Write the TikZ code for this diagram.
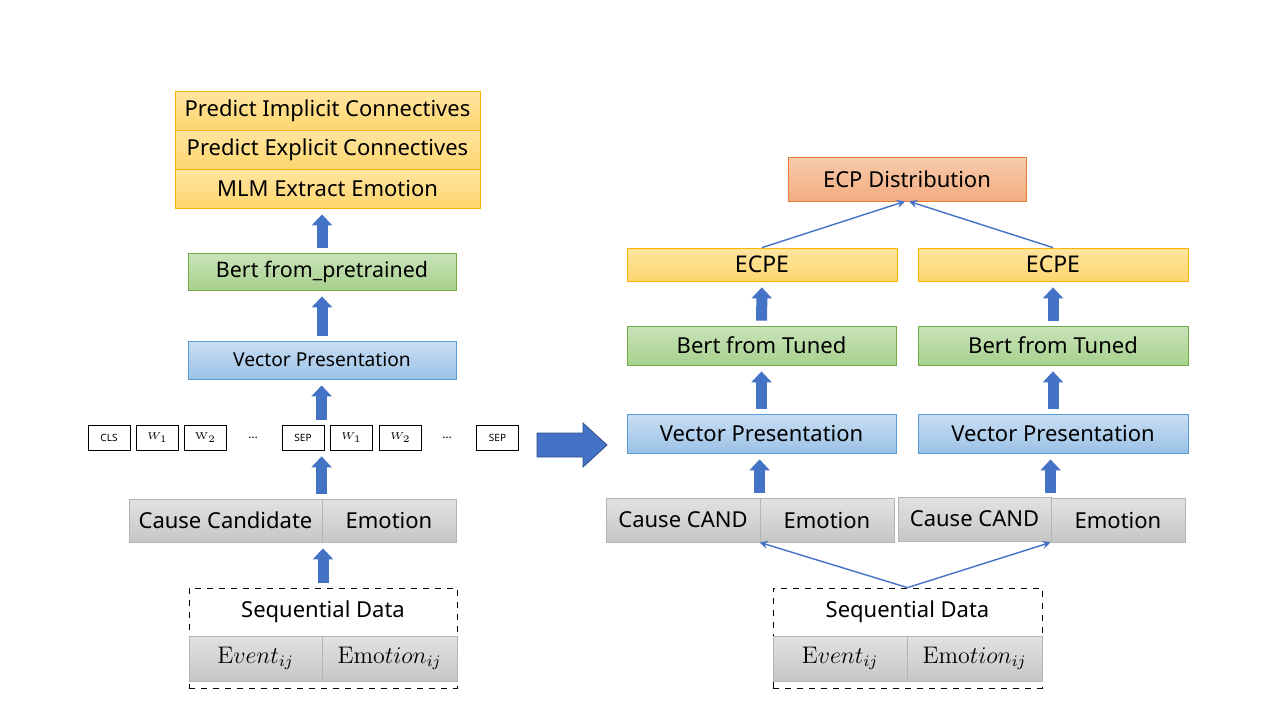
\documentclass[tikz,border=0pt]{standalone}
\usepackage[no-math]{fontspec}
\setmainfont{Noto Sans}
\usepackage{tikz}
\usetikzlibrary{arrows.meta}

\definecolor{arrblue}{HTML}{4472C4}

\tikzset{
    box/.style={draw, inner sep=0pt, font=\fontsize{11}{13}\selectfont},
    yel/.style={box, draw=orange!60!yellow, top color={rgb,255:red,255;green,229;blue,160},
                bottom color={rgb,255:red,255;green,214;blue,110}},
    grn/.style={box, top color={rgb,255:red,202;green,228;blue,186},
                bottom color={rgb,255:red,166;green,208;blue,140}, draw={rgb,255:red,112;green,173;blue,71}},
    blu/.style={box, top color={rgb,255:red,200;green,222;blue,244},
                bottom color={rgb,255:red,156;green,194;blue,230}, draw={rgb,255:red,91;green,155;blue,213}},
    gry/.style={box, top color={rgb,255:red,226;green,226;blue,226},
                bottom color={rgb,255:red,198;green,198;blue,198}, draw={rgb,255:red,180;green,180;blue,180}},
    sal/.style={box, top color={rgb,255:red,248;green,203;blue,173},
                bottom color={rgb,255:red,243;green,172;blue,128}, draw={rgb,255:red,237;green,125;blue,49}},
    cell/.style={gry, minimum height=22.5pt, font=\fontsize{12}{14}\selectfont},
    tok/.style={draw, inner sep=0pt, minimum width=21pt, minimum height=12.5pt,
                font=\fontsize{5}{6}\selectfont},
    fat/.style={line width=5.5pt, arrblue, -{Triangle[width=10pt,length=5.5pt]},
                shorten <=2.5pt, shorten >=3pt},
    thin/.style={line width=0.7pt, arrblue, -{Stealth[length=4pt,width=4pt]}},
}

\begin{document}
\begin{tikzpicture}[x=0.5pt, y=-0.5pt]
    \useasboundingbox (0,0) rectangle (1280,720);

    % left column
    \node[yel, minimum width=152.5pt, minimum height=19.5pt] (imp) at (327.5,110.5) {Predict Implicit Connectives};
    \node[yel, minimum width=152.5pt, minimum height=19.5pt] (exp) at (327.5,149.5) {Predict Explicit Connectives};
    \node[yel, minimum width=152.5pt, minimum height=19.5pt] (mlm) at (327.5,188.5) {MLM Extract Emotion};

    \node[grn, minimum width=134pt, minimum height=18.5pt, font=\fontsize{10.7}{13}\selectfont] (bertL) at (322,271.5) {Bert from\_pretrained};
    \node[blu, minimum width=134pt, minimum height=19pt, font=\fontsize{9.6}{12}\selectfont] (vecL) at (322,360) {Vector Presentation};

    \node[tok] (cls) at (109,437.5) {CLS};
    \node[tok] (wa) at (157.5,437.5) {$W_1$};
    \node[tok] (wb) at (205.5,437.5) {$\mathrm{W}_2$};
    \node[font=\fontsize{6}{7}\selectfont] (dta) at (253,437.5) {\dots};
    \node[tok] (sepa) at (303,437.5) {SEP};
    \node[tok] (wc) at (351.5,437.5) {$W_1$};
    \node[tok] (wd) at (400.5,437.5) {$W_2$};
    \node[font=\fontsize{6}{7}\selectfont] (dtb) at (447,437.5) {\dots};
    \node[tok] (sepb) at (497.5,437.5) {SEP};

    \node[gry, minimum width=96.5pt, minimum height=21.5pt] (causeL) at (225.5,520.5) {Cause Candidate};
    \node[gry, minimum width=67pt, minimum height=21.5pt] (emoL) at (389,520.5) {Emotion};

    \node[draw, dashed, minimum width=134pt, minimum height=50pt] (seqL) at (323,638) {};
    \node[font=\fontsize{11}{13}\selectfont] (seqtL) at (323,612) {Sequential Data};
    \node[cell, minimum width=66.5pt] (evL) at (255.5,658.5) {$\mathrm{E}vent_{ij}$};
    \node[cell, minimum width=67.5pt] (emL) at (389.5,658.5) {$\mathrm{Emo}tion_{ij}$};

    \draw[fat] (seqL.north) -- (seqL.north |- emoL.south);
    \draw[fat] (emoL.north west) -- (emoL.north west |- sepa.south);
    \draw[fat] (emoL.north west |- sepa.north) -- (emoL.north west |- vecL.south);
    \draw[fat] (vecL) -- (bertL);
    \draw[fat] (bertL) -- (bertL |- mlm.south);

    % big arrow
    \fill[arrblue, draw=arrblue!70!black, line width=0.4pt]
        (537,433) -- (583,433) -- (583,423) -- (607,445) -- (583,467) -- (583,457) -- (537,457) -- cycle;

    % right column
    \node[sal, minimum width=119pt, minimum height=22pt] (ecp) at (907,179) {ECP Distribution};

    \node[yel, minimum width=135pt, minimum height=16.5pt, font=\fontsize{11.5}{13}\selectfont] (ecpeA) at (762,264.5) {ECPE};
    \node[yel, minimum width=135pt, minimum height=16.5pt, font=\fontsize{11.5}{13}\selectfont] (ecpeB) at (1053,264.5) {ECPE};

    \node[grn, minimum width=134.5pt, minimum height=19.5pt] (bertA) at (761.5,345.5) {Bert from Tuned};
    \node[grn, minimum width=135pt, minimum height=19.5pt] (bertB) at (1053,345.5) {Bert from Tuned};

    \node[blu, minimum width=134.5pt, minimum height=19.5pt] (vecA) at (761.5,433.5) {Vector Presentation};
    \node[blu, minimum width=135pt, minimum height=19.5pt] (vecB) at (1053,433.5) {Vector Presentation};

    \node[gry, minimum width=77pt, minimum height=22pt] (causeA) at (683,520) {Cause CAND};
    \node[gry, minimum width=67pt, minimum height=22pt] (emoA) at (827,520) {Emotion};
    \node[gry, minimum width=76.5pt, minimum height=22pt] (causeB) at (974.5,519) {Cause CAND};
    \node[gry, minimum width=67pt, minimum height=22pt] (emoB) at (1118,520) {Emotion};

    \node[draw, dashed, minimum width=134.5pt, minimum height=50pt] (seqR) at (907.5,638) {};
    \node[font=\fontsize{11}{13}\selectfont] (seqtR) at (907.5,612) {Sequential Data};
    \node[cell, minimum width=67pt] (evR) at (840,658.5) {$\mathrm{E}vent_{ij}$};
    \node[cell, minimum width=67.5pt] (emR) at (974.5,658.5) {$\mathrm{Emo}tion_{ij}$};

    \draw[thin] (seqR.north) -- (emoA.south west);
    \draw[thin] (seqR.north) -- (emoB.south west);

    \draw[fat] (emoA.north west) -- (emoA.north west |- vecA.south);
    \draw[fat] (emoB.north west) -- (emoB.north west |- vecB.south);
    \draw[fat] (vecA) -- (bertA);
    \draw[fat] (vecB) -- (bertB);
    \draw[fat] (bertA) -- (ecpeA);
    \draw[fat] (bertB) -- (ecpeB);

    \draw[thin] (ecpeA.north) -- ([xshift=-1pt]ecp.south);
    \draw[thin] (ecpeB.north) -- ([xshift=1pt]ecp.south);
\end{tikzpicture}
\end{document}
